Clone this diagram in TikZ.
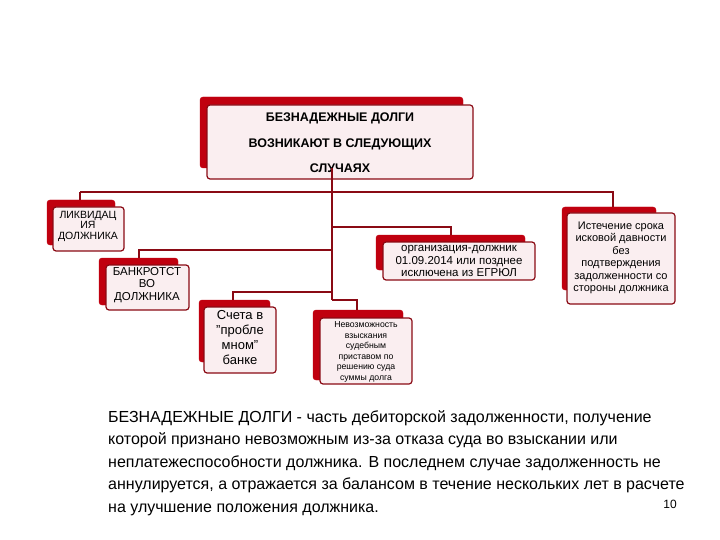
\documentclass[tikz,border=0pt]{standalone}
\usepackage{fontspec}
\setmainfont{Liberation Sans}
\begin{document}
\begin{tikzpicture}[x=1pt,y=-1pt,
  back/.style={fill=shred,draw=shred,rounded corners=3pt,inner sep=0pt},
  front/.style={fill=boxpink,draw=lnred,line width=1.2pt,rounded corners=3pt,inner sep=1pt,align=center},
  conn/.style={draw=lnred,line width=1.6pt}]
\definecolor{shred}{HTML}{C0000F}
\definecolor{lnred}{HTML}{8A0A14}
\definecolor{boxpink}{HTML}{FAEEF0}
\useasboundingbox (0,0) rectangle (720,540);
\newcommand{\twobox}[9]{%
 \node[back,minimum width=#4-#2,minimum height=#5-#3] (#1b) at ({(#2+#4)/2},{(#3+#5)/2}) {};
 \node[front,minimum width=#8-#6,minimum height=#9-#7] (#1) at ({(#6+#8)/2},{(#7+#9)/2}) {};}
% top
\twobox{top}{200}{97}{463}{168}{207}{105}{473}{179}
\node[font=\bfseries\fontsize{12.5}{25.5}\selectfont,align=center] (toptxt) at (340,143) {БЕЗНАДЕЖНЫЕ ДОЛГИ\\ ВОЗНИКАЮТ В СЛЕДУЮЩИХ\\ СЛУЧАЯХ};
\twobox{liq}{47}{200}{115}{245}{53}{207}{124}{251}
\node[font=\fontsize{10.5}{10.5}\selectfont,align=center] at (88,226) {ЛИКВИДАЦ\\ИЯ\\ДОЛЖНИКА};
\twobox{bnk}{99}{258}{178}{305}{106}{265}{189}{310}
\node[font=\fontsize{11.5}{12.5}\selectfont,align=center] at (147,285) {БАНКРОТСТ\\ВО\\ДОЛЖНИКА};
\twobox{sch}{199}{300}{270}{362}{204}{307}{276}{373}
\node[font=\fontsize{13}{15}\selectfont,align=center] at (240,338) {Счета в\\"пробле\\мном"\\банке};
\twobox{nev}{313}{310}{403}{380}{320}{318}{412}{384}
\node[font=\fontsize{8.7}{10.6}\selectfont,align=center] at (366,352) {Невозможность\\взыскания\\судебным\\приставом по\\решению суда\\суммы долга};
\twobox{org}{376}{235}{525}{270}{383}{242}{535}{280}
\node[font=\fontsize{11.5}{12.5}\selectfont,align=center] at (459,261) {организация-должник\\01.09.2014 или позднее\\исключена из ЕГРЮЛ};
\twobox{ist}{562}{207}{656}{290}{567}{213}{675}{304}
\node[font=\fontsize{11}{12.5}\selectfont,align=center] at (621,258) {Истечение срока\\исковой давности\\без\\подтверждения\\задолженности со\\стороны должника};
% connectors
\coordinate (s) at (332,179);
\coordinate (e) at (332,300);
\draw[conn] (topb.south -| s) -- (e);
\draw[conn] (80,192) -| (liqb.north -| 80,0);
\draw[conn] (80,192) -- (613,192) -- (613,200) -- (istb.north -| 613,0);
\draw[conn] (332,227) -| (451,235);
\draw[conn] (332,250) -| (139,258);
\draw[conn] (332,292) -| (233,300);
\draw[conn] (332,300) -| (357,310);
\node[anchor=north west,align=left,inner sep=0pt,font=\fontsize{16}{22.5}\selectfont] (para) at (108,410)
{БЕЗНАДЕЖНЫЕ ДОЛГИ -  часть дебиторской задолженности, получение\\
которой признано невозможным из-за отказа суда во взыскании или\\
неплатежеспособности должника. В последнем случае задолженность не\\
аннулируется, а отражается за балансом в течение нескольких лет в расчете\\
на улучшение положения должника.};
\node[font=\fontsize{12}{13}\selectfont] (pg) at (670,504) {10};
\end{tikzpicture}
\end{document}
